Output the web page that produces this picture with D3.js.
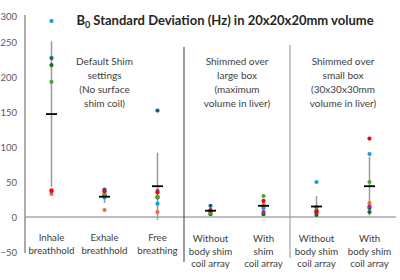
<!DOCTYPE html>
<html>
<head>
<meta charset="utf-8">
<script src="https://cdn.jsdelivr.net/npm/d3@7"></script>
<style>
  body { margin: 0; background: #fff; }
  text { font-family: Lato, sans-serif; }
</style>
</head>
<body>
<script>
var w = 400;
var h = 280;

// categories (x axis, one column each)
var categories = ["Inhale", "Exhale", "Free", "Without", "With", "WithoutBody", "WithBody"];
var categoryLines = [
    ["Inhale", "breathhold"],
    ["Exhale", "breathhold"],
    ["Free", "breathing"],
    ["Without", "body shim", "coil array"],
    ["With", "shim", "coil array"],
    ["Without", "body shim", "coil array"],
    ["With", "body shim", "coil array"]
];

// group headings, first / last category of each
var groupLines = [
    ["Default Shim", "settings", "(No surface", "shim coil)"],
    ["Shimmed over", "large box", "(maximum", "volume in liver)"],
    ["Shimmed over", "small box", "(30x30x30mm", "volume in liver)"]
];
var groupSpan = [[0, 2], [3, 4], [5, 6]];

// one value per subject per category (Hz)
var subjectColors = ["#156082", "#E97132", "#196B24", "#0F9ED5", "#A02B93", "#4EA72E", "#FF0000"];
var s1 = [227, 39, 152, 16, 16, 8, 13];
var s2 = [33, 10, 7, 7, 17, 6, 20];
var s3 = [217, 31, 28, 4, 4, 3, 7];
var s4 = [280, 28, 19, 8, 13, 50, 90];
var s5 = [37, 36, 37, 10, 7, 9, 15];
var s6 = [193, 33, 29, 6, 30, 14, 50];
var s7 = [38, 37, 35, 9, 23, 7, 112];
var subjects = [s1, s2, s3, s4, s5, s6, s7];

// mean and standard deviation of each column
var means = [147, 29, 44, 9, 16, 15, 44];
var sds = [104, 9, 48, 4, 9, 15, 42];

var yTicks = [-50, 0, 50, 100, 150, 200, 250, 300];

var svg = d3.select("body").append("svg")
    .attr("width", w)
    .attr("height", h);

var xScale = d3.scaleBand()
    .domain(categories)
    .range([25, 396])
    .padding(0);

var yScale = d3.scaleLinear()
    .domain([-50, 300])
    .range([252, 7]);

// y axis labels (no line from the axis itself)
var yAxis = d3.axisLeft(yScale).tickValues(yTicks).tickSize(0).tickPadding(0);
var yg = svg.append("g").attr("transform", "translate(17,0)").call(yAxis);
yg.select(".domain").remove();
yg.selectAll("text")
    .attr("font-family", "Lato, sans-serif")
    .attr("font-size", "9.5px")
    .attr("fill", "#595959")
    .attr("transform", function(d){ return d == 300 ? "translate(0,9)" : null; }); // top label sits lower in the picture

// axis lines
svg.append("line")
    .attr("x1", 25).attr("x2", 25)
    .attr("y1", 15).attr("y2", yScale(-50) + 1)
    .attr("stroke", "#595959").attr("stroke-width", 1);
svg.append("line")
    .attr("x1", 25).attr("x2", xScale.range()[1])
    .attr("y1", yScale(0)).attr("y2", yScale(0))
    .attr("stroke", "#808080").attr("stroke-width", 1);

// group separators
svg.selectAll(".sep")
    .data([3, 5])
    .enter()
    .append("line")
    .attr("class", "sep")
    .attr("x1", function(d){ return xScale(categories[d]); })
    .attr("x2", function(d){ return xScale(categories[d]); })
    .attr("y1", function(d, i){ return i == 0 ? 47 : 45; })
    .attr("y2", function(d, i){ return i == 0 ? 262 : 258; })
    .attr("stroke", function(d, i){ return i == 0 ? "#595959" : "#a0a0a0"; })
    .attr("stroke-width", 1.2);

// title
var title = svg.append("text")
    .attr("x", 225).attr("y", 25)
    .attr("text-anchor", "middle")
    .attr("font-family", "Lato, sans-serif")
    .attr("font-weight", "bold")
    .attr("font-size", "13px")
    .attr("fill", "#262626");
title.append("tspan").text("B");
title.append("tspan").text("0").attr("font-size", "9px").attr("dy", 3);
title.append("tspan").text(" Standard Deviation (Hz) in 20x20x20mm volume").attr("dy", -3);

// group headings
groupLines.forEach(function(lines, g){
    var x0 = xScale(categories[groupSpan[g][0]]);
    var x1 = xScale(categories[groupSpan[g][1]]) + xScale.bandwidth();
    svg.append("g").selectAll("text")
        .data(lines)
        .enter()
        .append("text")
        .attr("x", (x0 + x1) / 2)
        .attr("y", function(d, i){ return 65 + i * 14; })
        .attr("text-anchor", "middle")
        .attr("font-size", "10px")
        .attr("fill", "#404040")
        .text(function(d){ return d; });
});

// category labels
categoryLines.forEach(function(lines, c){
    var cx = xScale(categories[c]) + xScale.bandwidth() / 2;
    var top = lines.length == 2 ? 241 : 242;
    svg.append("g").selectAll("text")
        .data(lines)
        .enter()
        .append("text")
        .attr("x", cx)
        .attr("y", function(d, i){ return top + i * 12.5; })
        .attr("text-anchor", "middle")
        .attr("font-size", "9.7px")
        .attr("fill", "#404040")
        .text(function(d){ return d; });
});

// whiskers (mean +/- sd)
svg.selectAll(".whisker")
    .data(categories)
    .enter()
    .append("line")
    .attr("class", "whisker")
    .attr("x1", function(d){ return xScale(d) + xScale.bandwidth() / 2; })
    .attr("x2", function(d){ return xScale(d) + xScale.bandwidth() / 2; })
    .attr("y1", function(d, i){ return yScale(means[i] + sds[i]); })
    .attr("y2", function(d, i){ return yScale(means[i] - sds[i]); })
    .attr("stroke", "#9a9a9a")
    .attr("stroke-width", 1.5);

// subject points
subjects.forEach(function(vals, s){
    svg.append("g").selectAll("circle")
        .data(vals)
        .enter()
        .append("circle")
        .attr("cx", function(d, i){ return xScale(categories[i]) + xScale.bandwidth() / 2; })
        .attr("cy", function(d){ return yScale(d); })
        .attr("r", 2.1)
        .attr("fill", subjectColors[s]);
});

// mean marks
svg.selectAll(".mean")
    .data(categories)
    .enter()
    .append("line")
    .attr("class", "mean")
    .attr("x1", function(d){ return xScale(d) + xScale.bandwidth() / 2 - 5.5; })
    .attr("x2", function(d){ return xScale(d) + xScale.bandwidth() / 2 + 5.5; })
    .attr("y1", function(d, i){ return yScale(means[i]); })
    .attr("y2", function(d, i){ return yScale(means[i]); })
    .attr("stroke", "#000")
    .attr("stroke-width", 1.8);
</script>
</body>
</html>
